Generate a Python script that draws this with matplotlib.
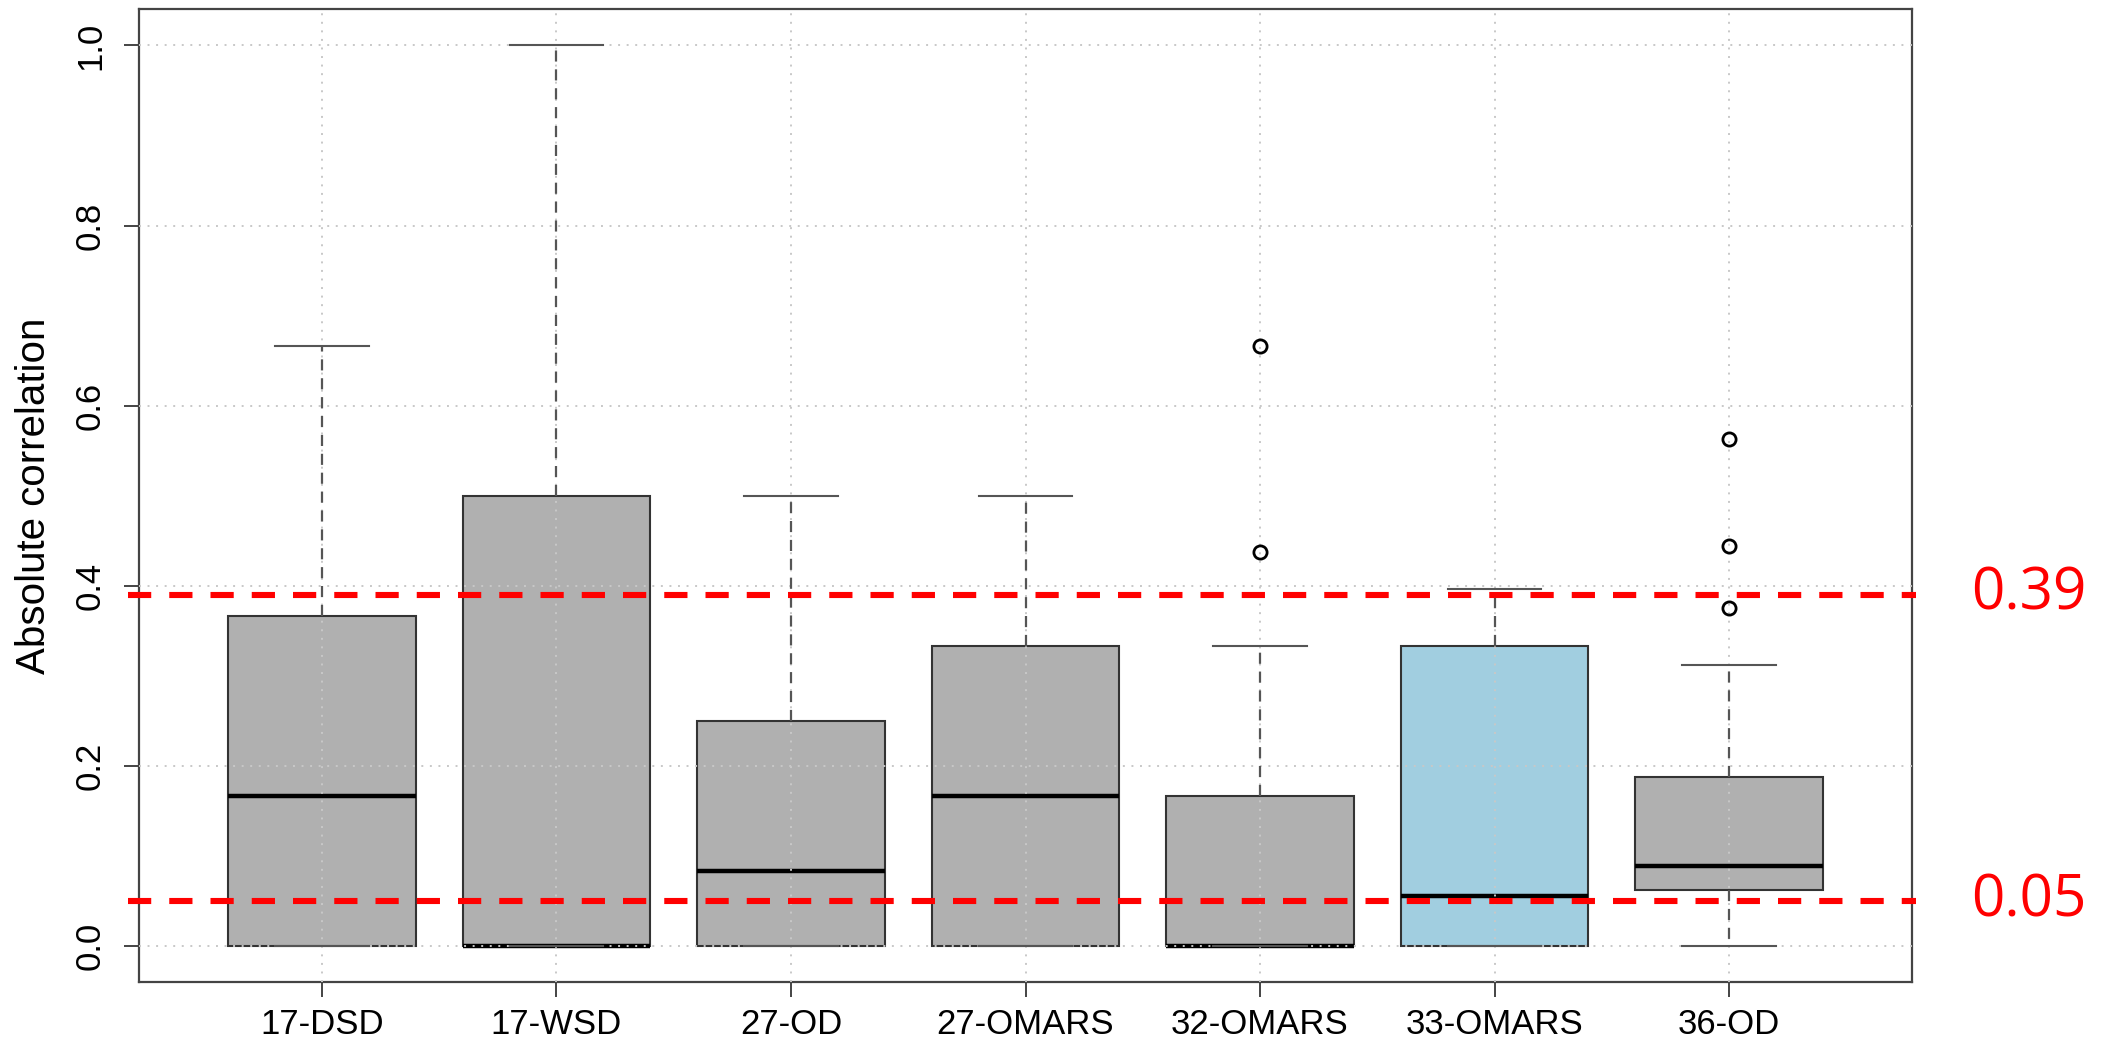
import matplotlib
matplotlib.use('Agg')
import matplotlib.pyplot as plt
import matplotlib.transforms as mtransforms

plt.rcParams['font.family'] = ['Liberation Sans', 'DejaVu Sans']

# 各组的箱线图统计量
categories = ['17-DSD', '17-WSD', '27-OD', '27-OMARS', '32-OMARS', '33-OMARS', '36-OD']
q1 = [0.0, 0.0, 0.0, 0.0, 0.0, 0.0, 0.0625]
medians = [0.1667, 0.0, 0.0833, 0.1667, 0.0, 0.0556, 0.0893]
q3 = [0.3667, 0.5, 0.25, 0.3333, 0.1667, 0.3333, 0.1875]
whisker_low = [0.0, 0.0, 0.0, 0.0, 0.0, 0.0, 0.0]
whisker_high = [0.6667, 1.0, 0.5, 0.5, 0.3333, 0.3968, 0.3125]
outliers = [[], [], [], [], [0.4375, 0.6667], [], [0.375, 0.4444, 0.5625]]
box_colors = ['#b0b0b0', '#b0b0b0', '#b0b0b0', '#b0b0b0', '#b0b0b0', '#a1cee0', '#b0b0b0']

# 阈值线
thresholds = [0.39, 0.05]
threshold_labels = ['0.39', '0.05']

fig = plt.figure(figsize=(21.16, 10.43), dpi=100)
ax = fig.add_axes([0.0657, 0.0585, 0.8379, 0.9325])

stats = []
for i, name in enumerate(categories):
    stats.append({
        'label': name,
        'q1': q1[i], 'med': medians[i], 'q3': q3[i],
        'whislo': whisker_low[i], 'whishi': whisker_high[i],
        'fliers': outliers[i],
    })

positions = list(range(1, len(categories) + 1))
bp = ax.bxp(stats, positions=positions, widths=0.8, patch_artist=True,
            capwidths=0.4,
            boxprops=dict(edgecolor='#333333', linewidth=1.5),
            medianprops=dict(color='black', linewidth=3.2, solid_capstyle='butt'),
            whiskerprops=dict(color='#555555', linewidth=1.6, linestyle=(0, (5, 3.5))),
            capprops=dict(color='#555555', linewidth=1.5),
            flierprops=dict(marker='o', markersize=9.5, markerfacecolor='none',
                            markeredgecolor='black', markeredgewidth=2))
for patch, c in zip(bp['boxes'], box_colors):
    patch.set_facecolor(c)
    patch.set_zorder(2)
# 须线、端线和离群点放在网格之上
for art in bp['whiskers'] + bp['caps'] + bp['fliers']:
    art.set_zorder(4)

ax.set_xlim(0.22, 7.78)
ax.set_ylim(-0.04, 1.04)
ax.set_yticks([0.0, 0.2, 0.4, 0.6, 0.8, 1.0])
ax.set_yticklabels(['0.0', '0.2', '0.4', '0.6', '0.8', '1.0'], rotation=90, va='center')
ax.set_xticks(positions)
ax.set_xticklabels(categories)
ax.tick_params(axis='both', direction='out', length=11, width=1.4, color='#444444',
               labelsize=25)
ax.tick_params(axis='x', pad=8)
ax.tick_params(axis='y', pad=12)

# 网格画在箱体之上
ax.grid(True, color='#c8c8c8', linestyle=(0, (1, 3.4)), linewidth=1.4)
ax.set_axisbelow(False)
for gl in ax.get_xgridlines() + ax.get_ygridlines():
    gl.set_zorder(3)

for s in ax.spines.values():
    s.set_color('#444444')
    s.set_linewidth(1.6)

fig.text(0.016, 0.525, 'Absolute correlation', rotation=90, ha='center', va='center',
         fontsize=29)

trans = mtransforms.blended_transform_factory(ax.transAxes, ax.transData)
for y, lab in zip(thresholds, threshold_labels):
    ax.axhline(y, xmin=-0.006, xmax=1.002, color='#ff0000', linewidth=4.4,
               linestyle=(0, (3.8, 2.95)), zorder=5, clip_on=False)
    ax.text(1.066, y, lab, transform=trans, color='#ff0000', fontsize=42,
            ha='center', va='center', family=['Open Sans', 'DejaVu Sans'])

fig.savefig('out.png', dpi=100)
